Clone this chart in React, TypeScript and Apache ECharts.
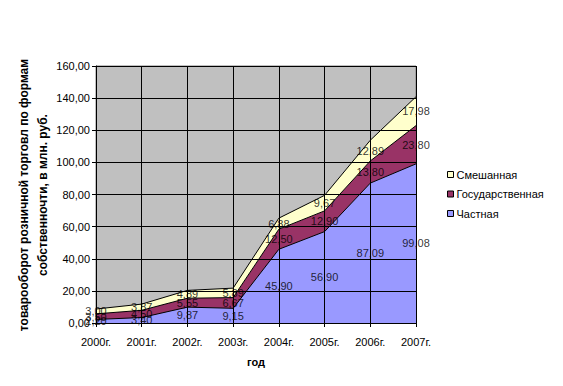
import React, { useEffect, useRef } from "react";
import * as echarts from "echarts";

const categories = ["2000г.", "2001г.", "2002г.", "2003г.", "2004г.", "2005г.", "2006г.", "2007г."];
const privateVals = [2.2, 3.4, 9.87, 9.15, 45.9, 56.9, 87.09, 99.08];
const stateVals = [3.5, 4.5, 5.55, 6.67, 12.5, 12.9, 13.8, 23.8];
const mixedVals = [3.0, 3.87, 4.89, 5.89, 6.88, 9.67, 12.89, 17.98];
const seriesNames = ["Частная", "Государственная", "Смешанная"];
const seriesColors = ["#9999FF", "#993366", "#FFFFCC"];
const yTicks = { min: 0, max: 160, interval: 20 };

const FONT = "Arial, 'Liberation Sans', sans-serif";
const fmt = (v: number) => v.toFixed(2).replace(".", ",");

export default function App() {
  const ref = useRef<HTMLDivElement>(null);
  useEffect(() => {
    if (!ref.current) return;
    const chart = echarts.init(ref.current, undefined, { renderer: "svg" });
    const all = [privateVals, stateVals, mixedVals];
    const areaSeries = all.map((vals, k) => ({
      name: seriesNames[k],
      type: "line",
      stack: "total",
      data: vals,
      symbol: "none",
      lineStyle: { color: "#000", width: 1 },
      itemStyle: { color: seriesColors[k], borderColor: "#000", borderWidth: 1 },
      areaStyle: { color: seriesColors[k], opacity: 1 },
      z: 2,
    }));
    const labelSeries = all.map((vals, k) => ({
      name: "lbl" + k,
      type: "scatter",
      symbolSize: 0,
      itemStyle: { color: "transparent" },
      silent: true,
      z: 10,
      data: vals.map((v, i) => {
        let base = 0;
        for (let j = 0; j < k; j++) base += all[j][i];
        return { value: [i, base + v / 2], raw: v };
      }),
      label: {
        show: true,
        position: "inside",
        color: "#000",
        fontFamily: FONT,
        fontSize: 11,
        formatter: (p: any) => fmt(p.data.raw),
      },
    }));
    chart.setOption({
      animation: false,
      backgroundColor: "#fff",
      grid: { left: 96, right: 147, top: 66, bottom: 63, show: true, backgroundColor: "#C0C0C0", borderColor: "#808080", borderWidth: 1 },
      legend: {
        data: [
          { name: "Смешанная", itemStyle: { color: seriesColors[2], borderColor: "#000", borderWidth: 1 } },
          { name: "Государственная", itemStyle: { color: seriesColors[1], borderColor: "#000", borderWidth: 1 } },
          { name: "Частная", itemStyle: { color: seriesColors[0], borderColor: "#000", borderWidth: 1 } },
        ],
        orient: "vertical",
        left: 442,
        top: 164,
        icon: "rect",
        itemWidth: 6,
        itemHeight: 6,
        itemGap: 8.5,
        textStyle: { fontFamily: FONT, fontSize: 11, color: "#000", padding: [0, 0, 0, -2] },
        selectedMode: false,
      },
      xAxis: {
        type: "category",
        data: categories,
        boundaryGap: false,
        name: "год",
        nameLocation: "middle",
        nameGap: 33,
        nameTextStyle: { fontFamily: FONT, fontSize: 11, fontWeight: "bold", color: "#000" },
        axisLine: { lineStyle: { color: "#000", width: 1 } },
        axisTick: { show: true, length: 4, lineStyle: { color: "#000" } },
        axisLabel: { fontFamily: FONT, fontSize: 11, color: "#000", margin: 13 },
        splitLine: { show: true, lineStyle: { color: "#000", width: 1 } },
        z: 5,
      },
      yAxis: {
        type: "value",
        min: yTicks.min,
        max: yTicks.max,
        interval: yTicks.interval,
        axisLine: { show: true, lineStyle: { color: "#000", width: 1 } },
        axisTick: { show: true, length: 4, lineStyle: { color: "#000" } },
        axisLabel: { fontFamily: FONT, fontSize: 11, color: "#000", margin: 6, formatter: (v: number) => fmt(v) },
        splitLine: { show: true, lineStyle: { color: "#000", width: 1 } },
        z: 5,
      },
      graphic: [
        {
          type: "text",
          x: 33,
          y: 195,
          rotation: Math.PI / 2,
          style: {
            text: "товарооборот розничной торговл по формам\nсобственночти, в млн. руб.",
            fontFamily: FONT,
            fontSize: 12,
            fontWeight: "bold",
            fill: "#000",
            align: "center",
            verticalAlign: "middle",
            lineHeight: 19,
          },
        },
      ],
      series: [...areaSeries, ...labelSeries],
    });
    return () => chart.dispose();
  }, []);
  return <div ref={ref} style={{ position: "fixed", left: 0, top: 0, width: 563, height: 386 }} />;
}
